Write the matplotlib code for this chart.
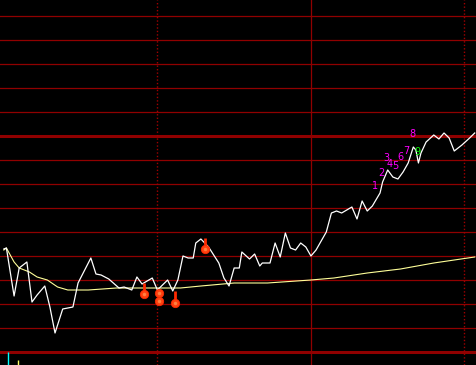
import numpy as np
import matplotlib
matplotlib.use("Agg")
import matplotlib.pyplot as plt

# intraday minute index -> price level (chart units)
priceT = [0, 1, 4, 6, 9, 11, 13, 16, 18, 20, 23, 27, 29, 34, 36, 38, 41, 45, 47, 50,
          52, 54, 58, 60, 64, 66, 68, 70, 72, 74, 75, 77, 80, 84, 86, 88, 90, 92, 93, 96,
          98, 100, 101, 104, 106, 108, 110, 112, 114, 116, 118, 120, 122, 126, 128, 130, 132, 136, 138, 140,
          142, 144, 147, 148, 150, 152, 154, 156, 158, 160, 161, 162, 163, 165, 168, 170, 172, 174, 176, 179,
          182, 184]
priceV = [116, 117, 69, 97, 103, 63, 70, 79, 58, 32, 56, 58, 82, 107, 91, 90, 86, 77, 78, 75,
          88, 81, 87, 75, 85, 74, 85, 109, 107, 107, 122, 126, 118, 102, 87, 79, 97, 97, 113, 106,
          111, 99, 102, 102, 122, 108, 132, 117, 115, 122, 118, 109, 115, 133, 152, 154, 152, 158, 146, 164,
          154, 159, 172, 183, 195, 188, 186, 193, 202, 218, 215, 202, 212, 223, 230, 226, 232, 227, 214, 220,
          227, 232]

avgT = [0, 1, 4, 6, 10, 13, 17, 21, 25, 33, 44, 60, 69, 77, 90, 103, 120, 129, 142, 155, 168, 184]
avgV = [115, 117, 103, 97, 93, 88, 85, 78, 75, 75, 77, 77, 77, 79, 82, 82, 85, 87, 92, 96, 102, 108]

# signal drops: position, stem top
dropT = [54.8, 60.6, 60.6, 66.9, 78.6]
dropV = [71, 72, 64, 62, 116]
dropTop = [82, 72, 64, 74, 127]

# counting labels
cntText = ["1", "2", "3", "4", "5", "6", "7", "8", "9"]
cntT = [145.0, 147.4, 149.3, 150.9, 152.9, 154.8, 157.2, 159.5, 161.5]
cntV = [179, 192, 207, 201, 199, 208, 214, 231, 213]
cntColor = ["#ff00ff"] * 8 + ["#00ff00"]

# volume bars
volT = [1.6, 5.5]
volV = [13, 5]
volColor = ["#00ffff", "#ffff66"]

gridV = [13 + 24 * k for k in range(15)]
thickV = [13, 229]
red = "#900000"

fig = plt.figure(figsize=(4.76, 3.65), dpi=100, facecolor="black")
ax = fig.add_axes([0, 0, 1, 1], facecolor="black")
ax.set_xlim(-1.5, 184.5)
ax.set_ylim(0, 365)
ax.axis("off")

for g in gridV:
	ax.axhline(g, color=red, lw=2.2 if g in thickV else 0.9, zorder=1)
ax.axvline(120, color=red, lw=0.9, zorder=1)
for t in [60, 180]:
	ax.axvline(t, color="#a00000", lw=1.0, ls=(0, (1, 1.5)), zorder=1)

ax.vlines(volT, 0, volV, colors=volColor, lw=1.0, zorder=2)

ax.plot(avgT, avgV, color="#ffff99", lw=0.8, zorder=3)
ax.plot(priceT, priceV, color="white", lw=0.9, zorder=4)

for t, v, top in zip(dropT, dropV, dropTop):
	if top > v:
		ax.plot([t, t], [v, top], color="#ff2a00", lw=2.0, zorder=5, solid_capstyle="butt")
ax.plot(dropT, dropV, "o", ms=6.0, color="#ff4010", mec="#ff2a00", mew=0.6, zorder=6)
ax.plot(dropT, dropV, "o", ms=2.5, color="#ff8040", mew=0, zorder=7)

for s, t, v, c in zip(cntText, cntT, cntV, cntColor):
	ax.text(t, v, s, color=c, fontsize=7, ha="center", va="center", zorder=8)

fig.savefig("out.png", dpi=100, facecolor="black")
